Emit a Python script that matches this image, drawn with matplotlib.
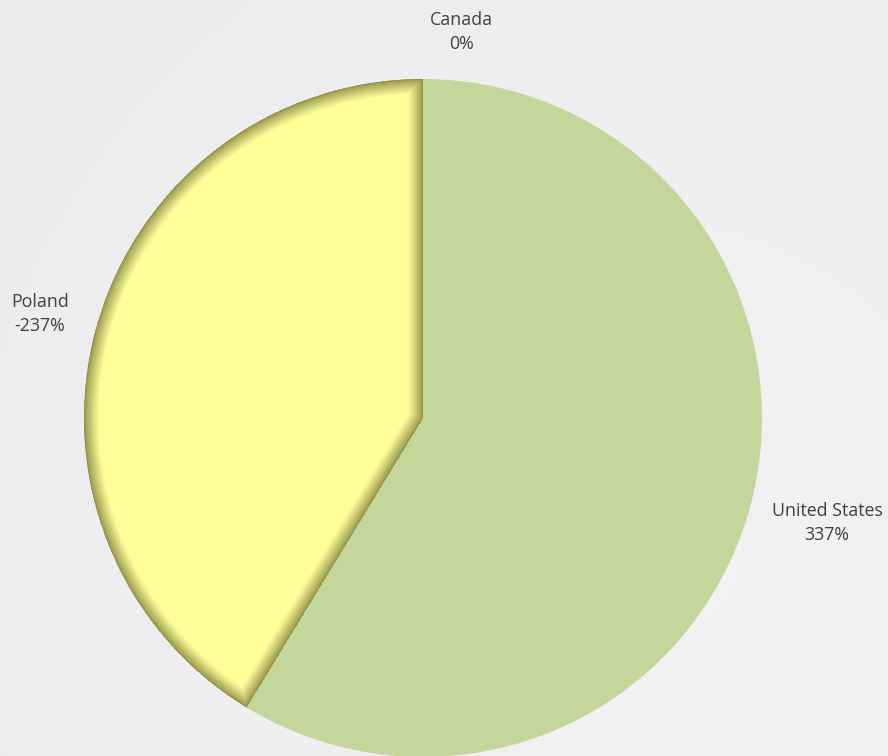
import numpy as np
import matplotlib
matplotlib.use("Agg")
import matplotlib.pyplot as plt
from matplotlib.patches import Wedge

# data
countries = ["United States", "Poland", "Canada"]
pct_labels = [337, -237, 0]
colors = ["#c4d79b", "#ffff99", "#8db3e2"]

plt.rcParams['font.family'] = ['Open Sans', 'DejaVu Sans']

fig = plt.figure(figsize=(8.88, 7.56), dpi=100)

# soft radial background
bg = fig.add_axes([0, 0, 1, 1], zorder=-5)
yy, xx = np.mgrid[0:756, 0:888]
d = np.hypot(xx - 650, yy - 550) / 900.0
shade = 0.952 - 0.03 * np.clip(d, 0, 1)
bg.imshow(np.dstack([shade, shade, shade + 0.008]).clip(0, 1), aspect="auto",
          extent=[0, 1, 0, 1], interpolation="bilinear")
bg.axis("off")

ax = fig.add_axes([84 / 888, -1 / 756, 678 / 888, 678 / 756])
ax.set_facecolor("none")
wedges, _ = ax.pie(np.abs(pct_labels), colors=colors, startangle=90, counterclock=False,
                   radius=1.0, wedgeprops=dict(linewidth=0))
ax.set_xlim(-1, 1)
ax.set_ylim(-1, 1)
ax.set_aspect("equal")
ax.axis("off")

# inner shadow on the Poland slice (dense strokes near the edge, soft tail)
w = wedges[1]
n = 50
for i in range(1, n + 1):
    half_px = 15 * (i / n) ** 1.7
    sh = Wedge(w.center, w.r, w.theta1, w.theta2, facecolor="none", edgecolor="#1a1a00",
               linewidth=2 * half_px * 0.72, alpha=0.012, transform=ax.transData)
    ax.add_patch(sh)
    sh.set_clip_path(w)

txt = dict(ha="center", va="center", fontsize=12.8, color="#404040", linespacing=1.45)
fig.text(461 / 888, 1 - 32 / 756, f"{countries[2]}\n{pct_labels[2]}%", **txt)
fig.text(40 / 888, 1 - 314 / 756, f"{countries[1]}\n{pct_labels[1]}%", **txt)
fig.text(827 / 888, 1 - 523 / 756, f"{countries[0]}\n{pct_labels[0]}%", **txt)

fig.savefig("out.png", dpi=100)
